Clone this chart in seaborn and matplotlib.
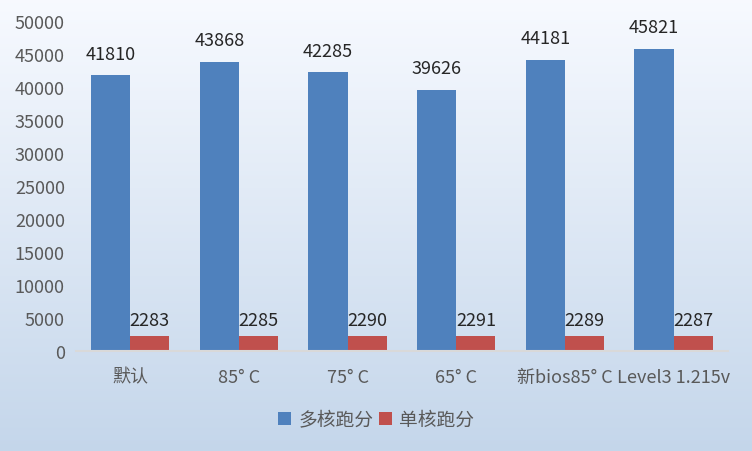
import numpy as np
import pandas as pd
import matplotlib
matplotlib.use('Agg')
import matplotlib.pyplot as plt
import seaborn as sns

# данные с графика
categories = ['默认', '85° C', '75° C', '65° C', '新bios85° C', 'Level3 1.215v']
multi_core = [41810, 43868, 42285, 39626, 44181, 45821]
single_core = [2283, 2285, 2290, 2291, 2289, 2287]
series_names = ['多核跑分', '单核跑分']

df = pd.DataFrame({
    'cat': categories * 2,
    'score': multi_core + single_core,
    'series': [series_names[0]] * 6 + [series_names[1]] * 6,
})

sns.set_theme(style='white')
plt.rcParams['font.family'] = ['Noto Sans CJK SC', 'DejaVu Sans']
text_color = '#595959'

fig = plt.figure(figsize=(7.52, 4.52), dpi=100)

# градиентный фон
bg = fig.add_axes([0, 0, 1, 1], zorder=0)
grad = np.linspace(0, 1, 256).reshape(-1, 1)
top = np.array([0.97, 0.98, 1.0])
bottom = np.array([0.77, 0.84, 0.92])
img = top + (bottom - top) * grad[:, :, None]
bg.imshow(img, aspect='auto', extent=[0, 1, 0, 1])
bg.axis('off')

ax = fig.add_axes([0.101, 0.221, 0.867, 0.730], zorder=1)
ax.patch.set_alpha(0)
sns.barplot(data=df, x='cat', y='score', hue='series', order=categories,
            hue_order=series_names, palette=['#4f81bd', '#c0504d'],
            width=0.72, gap=0, saturation=1, linewidth=0, edgecolor='none',
            ax=ax)

for cont, off in zip(ax.containers, [9, 5]):
    ax.bar_label(cont, padding=off, fontsize=13, color='#262626')

ax.set_ylim(0, 50000)
ax.set_yticks(range(0, 50001, 5000))
ax.set_xlim(-0.5, 5.5)
ax.set_xlabel('')
ax.set_ylabel('')
for s in ['top', 'right', 'left']:
    ax.spines[s].set_visible(False)
ax.spines['bottom'].set_color('#d9d9d9')
ax.spines['bottom'].set_linewidth(1.5)
ax.tick_params(axis='y', labelsize=13, colors=text_color, length=0, pad=8)
ax.tick_params(axis='x', labelsize=13, colors=text_color, length=0, pad=12)

handles, labels = ax.get_legend_handles_labels()
ax.get_legend().remove()
fig.legend(handles, labels, loc='center', bbox_to_anchor=(0.5, 0.07), ncol=2,
           frameon=False, fontsize=13.5, handlelength=0.7, handleheight=0.7,
           columnspacing=0.3, handletextpad=0.4, labelcolor=text_color)

fig.savefig('out.png', dpi=100)
